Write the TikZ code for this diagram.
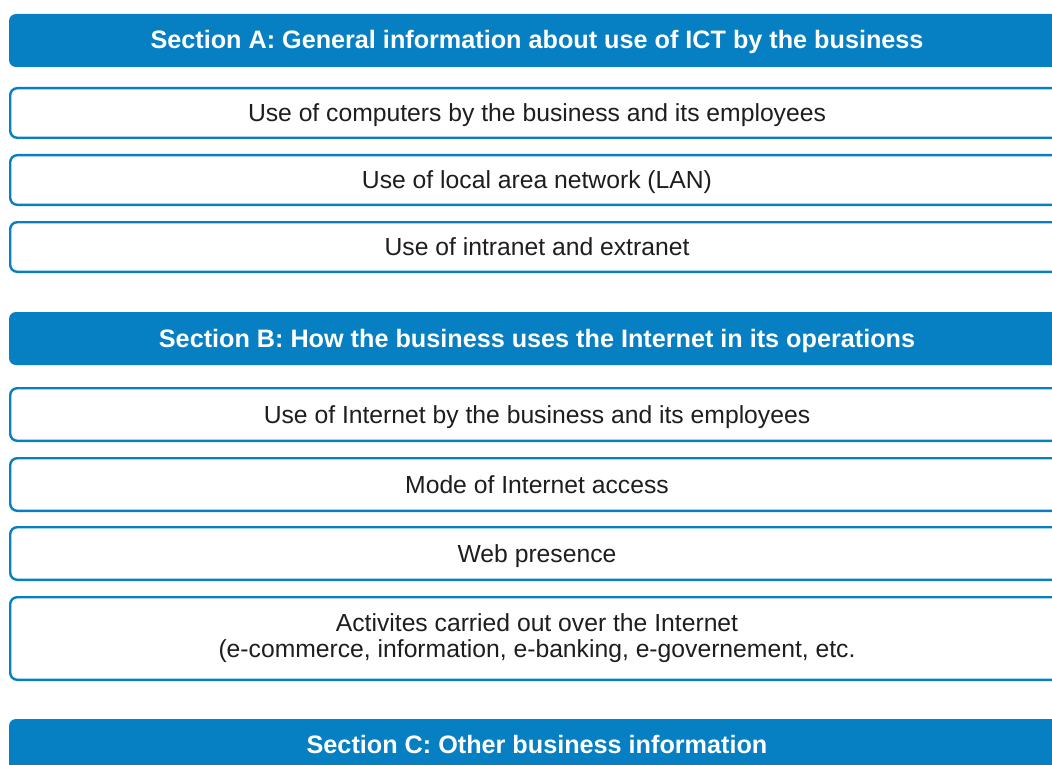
\documentclass[tikz,border=0pt]{standalone}
\usepackage{fontspec}
\setmainfont{Liberation Sans}
\definecolor{ictblue}{RGB}{6,128,194}
\definecolor{ink}{RGB}{30,30,30}
\begin{document}
\begin{tikzpicture}[x=1pt,y=-1pt,
  hdr/.style={fill=ictblue, draw=none, rounded corners=7pt, text=white,
    font=\fontsize{25.2}{26}\selectfont\bfseries, minimum width=1056pt, inner sep=0pt},
  item/.style={fill=white, draw=ictblue, line width=2.4pt, rounded corners=7pt, text=ink,
    font=\fontsize{24.7}{26}\selectfont, minimum width=1053.6pt, inner sep=0pt, align=center},
  oneline/.style={text height=20pt, text depth=3pt}]
\useasboundingbox (0,0) rectangle (1052,765);
\begin{scope}
\clip (0,0) rectangle (1052,765);
\node[hdr, oneline, minimum height=53pt] (A) at (537,40.5) {Section A: General information about use of ICT by the business};
\node[item, oneline, minimum height=49.6pt] (a1) at (537,113) {Use of computers by the business and its employees};
\node[item, oneline, minimum height=49.6pt] (a2) at (537,180) {Use of local area network (LAN)};
\node[item, oneline, minimum height=49.6pt] (a3) at (537,247) {Use of intranet and extranet};
\node[hdr, oneline, minimum height=53pt] (B) at (537,338.5) {Section B: How the business uses the Internet in its operations};
\node[item, oneline, minimum height=52.6pt] (b1) at (537,414.5) {Use of Internet by the business and its employees};
\node[item, oneline, minimum height=52.6pt] (b2) at (537,484.5) {Mode of Internet access};
\node[item, oneline, minimum height=52.6pt] (b3) at (537,553.5) {Web presence};
\node[item, minimum height=82.6pt] (b4) at (537,638.5) {};
\node[text=ink, font=\fontsize{24.7}{26}\selectfont, align=center, inner sep=0pt] (b4t) at (537,638) {Activites carried out over the Internet\\(e-commerce, information, e-banking, e-governement, etc.};
\node[hdr, minimum height=92pt] (Cbox) at (537,765) {};
\node[text=white, font=\fontsize{25.2}{26}\selectfont\bfseries, oneline, inner sep=0pt] (C) at (537,745) {Section C: Other business information};
\end{scope}
\end{tikzpicture}
\end{document}
